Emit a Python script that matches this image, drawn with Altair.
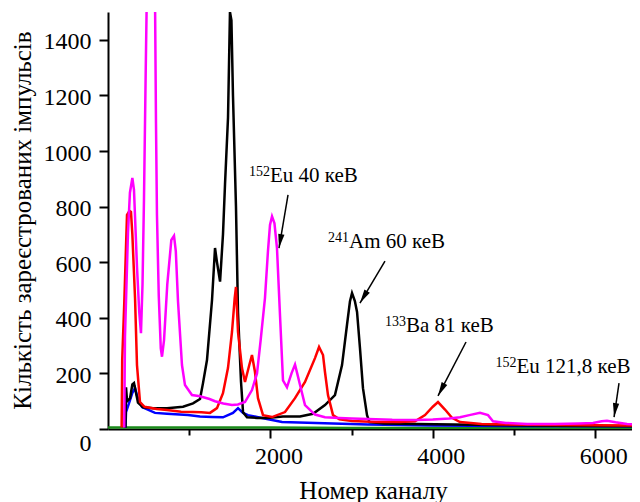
import math
import altair as alt
import pandas as pd

# ---- spectra (channel, counts) ----
magenta_ch = [200, 209, 246, 270, 300, 320, 357, 385, 406, 425, 443, 465, 480, 500, 530, 560, 579, 591, 603, 625,
              650, 665, 690, 730, 780, 813, 835, 862, 911, 948, 1034, 1133, 1250, 1318, 1420, 1527, 1600, 1687, 1773,
              1835, 1880, 1933, 1970, 1995, 2020, 2050, 2081, 2118, 2155, 2204, 2260, 2303, 2330, 2365, 2426, 2549,
              2672, 2850, 3000, 3200, 3500, 3800, 4000, 4200, 4335, 4450, 4581, 4680, 4741, 4900, 5160, 5500, 5800,
              5973, 6080, 6145, 6250, 6392, 6552]
magenta_ct = [5, 331, 705, 850, 903, 860, 583, 420, 345, 520, 824, 1300, 1600, 2200, 2600, 2200, 1550, 1100, 770, 480,
              290, 260, 320, 520, 680, 695, 640, 460, 230, 158, 122, 118, 108, 100, 92, 86, 88, 97, 140,
              200, 320, 471, 640, 734, 765, 740, 651, 410, 175, 150, 200, 232, 200, 158, 86, 52,
              42, 40, 38, 36, 33, 32, 34, 38, 42, 50, 58, 50, 28, 22, 18, 18, 20,
              22, 28, 30, 24, 18, 15]

black_ch = [215, 222, 235, 271, 300, 320, 345, 369, 431, 554, 727, 924, 1047, 1133, 1170, 1219, 1281, 1318, 1342, 1380,
            1416, 1441, 1478, 1502, 1520, 1539, 1576, 1601, 1638, 1663, 1712, 1835, 1958, 2155, 2365, 2525, 2672, 2795,
            2882, 2943, 2980, 3005, 3040, 3067, 3103, 3140, 3190, 3220, 3400, 3800, 4500, 5500, 6552]
black_ct = [5, 150, 100, 110, 160, 165, 130, 95, 78, 75, 75, 80, 92, 108, 165, 248, 464, 651, 600, 530,
            700, 880, 1120, 1500, 1470, 1200, 800, 420, 170, 60, 42, 40, 40, 45, 45, 55, 86, 122,
            230, 374, 460, 489, 460, 421, 291, 147, 50, 25, 20, 18, 15, 12, 10]

red_ch = [168, 175, 200, 234, 265, 283, 300, 333, 357, 394, 450, 600, 727, 900, 1047, 1150, 1256, 1342, 1416, 1478,
          1527, 1560, 1576, 1601, 1650, 1687, 1740, 1773, 1810, 1847, 1909, 2020, 2180, 2303, 2426, 2549, 2599, 2648,
          2672, 2709, 2771, 2850, 3005, 3300, 3600, 3781, 3904, 4000, 4064, 4150, 4236, 4335, 4600, 5200, 6552]
red_ct = [5, 250, 450, 770, 785, 781, 700, 471, 230, 97, 80, 72, 68, 62, 61, 60, 58, 75, 129, 220,
          349, 470, 511, 349, 219, 169, 230, 266, 205, 111, 50, 43, 61, 111, 169, 255, 295, 266,
          205, 122, 50, 35, 29, 25, 25, 28, 50, 80, 97, 70, 40, 25, 18, 15, 12]

blue_ch = [215, 222, 271, 300, 333, 357, 419, 579, 727, 985, 1133, 1281, 1416, 1539, 1601, 1663, 1724, 1835, 2143,
           2771, 3200, 4000, 5000, 6552]
blue_ct = [5, 61, 104, 130, 147, 120, 79, 58, 55, 50, 45, 43, 42, 58, 75, 58, 50, 43, 25,
           20, 16, 13, 11, 10]

green_ch = [0, 1000, 2000, 3000, 4000, 5000, 6000, 6552]
green_ct = [5, 5, 5, 4, 4, 4, 4, 4]

# ---- annotations ----
ann_ch = [1995, 2968, 3670, 5030]
ann_ct = [888, 651, 349, 201]
ann_sup = ["152", "241", "133", "152"]
ann_txt = ["Eu 40 кеВ", "Am 60 кеВ", "Ba 81 кеВ", "Eu 121,8 кеВ"]
arr_tail_ch = [2217, 3411, 4409, 6293]
arr_tail_ct = [842, 604, 313, 165]
arr_tip_ch = [2106, 3103, 4064, 6232]
arr_tip_ct = [651, 453, 119, 43]

x_ticks = [1000, 2000, 3000, 4000, 5000, 6000]
y_ticks = list(range(0, 1600, 100))

W, H = 524, 417
XMAX, YMAX = 6453, 1500
FONT = "Liberation Serif"

xscale = alt.Scale(domain=[0, XMAX], nice=False, zero=False)
yscale = alt.Scale(domain=[0, YMAX], nice=False, zero=False)

x_axis = alt.Axis(
    values=x_ticks, format="d", grid=False,
    labelExpr="datum.value % 2000 == 0 ? datum.label : ''",
    tickSize={"condition": {"test": "datum.value % 2000 == 0", "value": 9}, "value": 6},
    tickWidth=2, domainWidth=2, domainColor="black", tickColor="black",
    labelFont=FONT, labelFontSize=24, labelColor="black", labelPadding=6, labelOffset=8,
    labelFlush=False,
    title="Номер каналу", titleFont=FONT, titleFontSize=25, titleFontWeight="normal",
    titleColor="black", titleX=265, titleY=69, titleAlign="center", titleBaseline="alphabetic",
)
y_axis = alt.Axis(
    values=y_ticks, format="d", grid=False,
    labelExpr="datum.value % 200 == 0 ? datum.label : ''",
    tickSize={"condition": {"test": "datum.value % 200 == 0", "value": 9}, "value": 6},
    labelBaseline={"condition": {"test": "datum.value == 0", "value": "top"}, "value": "middle"},
    tickWidth=2, domainWidth=2, domainColor="black", tickColor="black",
    labelFont=FONT, labelFontSize=24, labelColor="black", labelPadding=8, labelOffset=2,
    labelFlush=False,
    title="Кількість зареєстрованих імпульсів", titleFont=FONT, titleFontSize=25,
    titleFontWeight="normal", titleColor="black", titleX=-78, titleY=208, titleAngle=270,
    titleAlign="center", titleBaseline="alphabetic",
)

series = [
    ("green", green_ch, green_ct, "#1a8a1a"),
    ("blue", blue_ch, blue_ct, "#0000ff"),
    ("black", black_ch, black_ct, "#000000"),
    ("red", red_ch, red_ct, "#ff0000"),
    ("magenta", magenta_ch, magenta_ct, "#ff00ff"),
]

layers = []
for name, chs, cts, col in series:
    d = pd.DataFrame({"ch": chs, "ct": cts})
    layers.append(
        alt.Chart(d).mark_line(color=col, strokeWidth=2.5, clip=True).encode(
            x=alt.X("ch:Q", scale=xscale, axis=x_axis),
            y=alt.Y("ct:Q", scale=yscale, axis=y_axis),
        )
    )

ann = pd.DataFrame({"ch": ann_ch, "ct": ann_ct, "sup": ann_sup, "txt": ann_txt})
main_txt = alt.Chart(ann).mark_text(align="left", baseline="alphabetic", font=FONT, fontSize=21,
                                    color="black").encode(
    x=alt.X("ch:Q", scale=xscale), y=alt.Y("ct:Q", scale=yscale), text="txt:N")
sup_txt = alt.Chart(ann).mark_text(align="right", baseline="alphabetic", font=FONT, fontSize=14,
                                   dy=-6, color="black").encode(
    x=alt.X("ch:Q", scale=xscale), y=alt.Y("ct:Q", scale=yscale), text="sup:N")

angles = []
for a, b, c, d in zip(arr_tail_ch, arr_tail_ct, arr_tip_ch, arr_tip_ct):
    dx = (c - a) * W / XMAX
    dy = -(d - b) * H / YMAX
    angles.append(math.degrees(math.atan2(dx, -dy)) % 360)

arr = pd.DataFrame({"x1": arr_tail_ch, "y1": arr_tail_ct, "x2": arr_tip_ch, "y2": arr_tip_ct, "ang": angles})
shafts = alt.Chart(arr).mark_rule(color="black", strokeWidth=1.5).encode(
    x=alt.X("x1:Q", scale=xscale), y=alt.Y("y1:Q", scale=yscale), x2="x2:Q", y2="y2:Q")
heads = alt.Chart(arr).mark_point(shape="M0,0 L0.45,2 L-0.45,2 Z", filled=True, size=196,
                                  color="black", opacity=1).encode(
    x=alt.X("x2:Q", scale=xscale), y=alt.Y("y2:Q", scale=yscale),
    angle=alt.Angle("ang:Q", scale=None))

chart = alt.layer(*layers, shafts, heads, main_txt, sup_txt).properties(
    width=W, height=H,
    autosize=alt.AutoSizeParams(type="none"),
    padding={"left": 100, "top": 4, "right": 0, "bottom": 73},
    background="white",
).configure_view(stroke=None)

chart.save("out.html", embed_options={"renderer": "svg", "actions": False})
